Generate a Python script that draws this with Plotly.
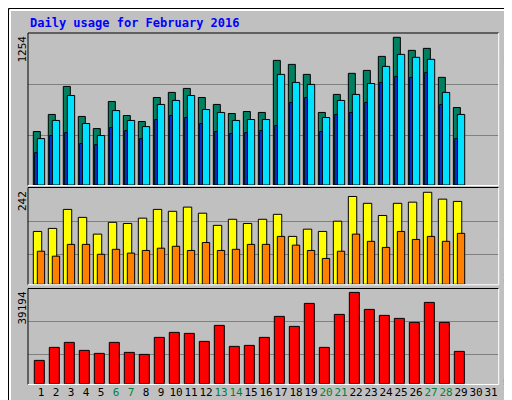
import plotly.graph_objects as go

days = list(range(1, 32))
data_days = list(range(1, 30))
hits = [454,599,837,582,479,709,590,539,743,786,820,743,684,607,624,616,1058,1024,939,616,769,948,973,1092,1254,1143,1160,914,658]
files = [394,548,760,522,420,632,548,496,684,718,760,641,616,548,556,556,939,871,854,573,718,769,862,1007,1109,1084,1067,786,599]
pages = [275,420,445,352,343,488,462,394,556,590,573,522,454,437,445,462,505,701,743,454,599,616,701,871,922,914,956,684,394]
visits = [139,147,197,176,132,163,160,174,197,192,203,187,155,171,160,171,184,126,145,139,166,231,213,181,213,216,242,224,218]
sites = [87,74,105,105,79,92,82,89,95,100,89,110,89,92,105,105,126,103,89,68,87,132,113,97,139,118,126,113,134]
kbytes = [10013,15591,17737,14304,13017,17737,13446,12588,19883,22028,21599,18166,25032,16021,16450,19883,28894,24603,34473,15591,29752,39194,31898,29323,28036,26319,34902,26319,13875]
weekend = [6,7,13,14,20,21,27,28]

W, H = 512, 400
fig = go.Figure()
line = dict(color="black", width=1)

def bar(y, color, off, wid, ya):
    fig.add_trace(go.Bar(x=data_days, y=y, offset=off, width=wid, marker=dict(color=color, line=line),
                         xaxis="x", yaxis=ya, showlegend=False, hoverinfo="skip"))

bar(hits, "#008060", -0.513, 0.467, "y")
bar(files, "#00E0FF", -0.247, 0.49, "y")
bar(pages, "#0040FF", -0.42, 0.17, "y")
bar(visits, "#FFFF00", -0.513, 0.56, "y2")
bar(sites, "#FF8000", -0.247, 0.49, "y2")
bar(kbytes, "#FF0000", -0.447, 0.667, "y3")

xr = [0.133, 31.51]
def pdom(top, bot):
    return [1 - bot / H, 1 - top / H]

ticktext = [f"<span style='color:#008040'>{d}</span>" if d in weekend else str(d) for d in days]
fig.update_layout(
    width=W, height=H, margin=dict(l=0, r=0, t=0, b=0, autoexpand=False),
    paper_bgcolor="#C0C0C0", plot_bgcolor="#C0C0C0", barmode="overlay",
    font=dict(family="DejaVu Sans Mono", size=11, color="black"),
    xaxis=dict(domain=[20/W, 490.7/W], range=xr, showgrid=False, zeroline=False, automargin=False,
               tickvals=days, ticktext=ticktext, ticks="", tickangle=0, anchor="y3",
               tickfont=dict(size=11)),
    yaxis=dict(domain=pdom(25, 177), range=[0, 1290.5], tickvals=[422, 855], showticklabels=False,
               gridcolor="#808080", zeroline=False, automargin=False),
    yaxis2=dict(domain=pdom(180.3, 276.3), range=[0, 252.5], tickvals=[79, 166], showticklabels=False,
                gridcolor="#808080", zeroline=False, automargin=False),
    yaxis3=dict(domain=pdom(281, 375.7), range=[0, 40654], tickvals=[12621, 26788], showticklabels=False,
                gridcolor="#808080", zeroline=False, automargin=False),
)

shapes = []
def px_rect(x0, y0, x1, y1, color, width=1):
    shapes.append(dict(type="rect", xref="paper", yref="paper", x0=x0/W, x1=x1/W,
                       y0=1-y1/H, y1=1-y0/H, line=dict(color=color, width=width), fillcolor="rgba(0,0,0,0)"))
def px_line(x0, y0, x1, y1, color, width=1):
    shapes.append(dict(type="line", xref="paper", yref="paper", x0=x0/W, x1=x1/W,
                       y0=1-y0/H, y1=1-y1/H, line=dict(color=color, width=width)))

px_rect(0.5, 0.5, 511.5, 399.5, "black", 1)
px_line(2, 2, 509, 2, "white", 2)
px_line(2, 2, 2, 397, "white", 2)
px_line(509, 2, 509, 397, "#808080", 2)
px_line(2, 397, 509, 397, "#808080", 2)
for top, bot in [(25, 177.5), (179.5, 276.8), (280.5, 376.5)]:
    px_line(20, top, 490.7, top, "black")
    px_line(20, top, 20, bot, "black")
    px_line(20, bot, 490.7, bot, "white")
    px_line(490.7, top, 490.7, bot, "white")
fig.update_layout(shapes=shapes)

ann = []
ann.append(dict(text="<b>Daily usage for February 2016</b>", x=20/W, y=1-15/H, xref="paper", yref="paper",
                xanchor="left", yanchor="middle", showarrow=False,
                font=dict(family="DejaVu Sans Mono", size=12, color="#0000FF")))
for txt, ytop in [("1254", 26), ("242", 181), ("39194", 282)]:
    ann.append(dict(text=txt, textangle=-90, x=14/W, y=1-ytop/H, xref="paper", yref="paper",
                    xanchor="center", yanchor="top", showarrow=False, font=dict(size=11)))
rlab = [
    ("<span style='color:#00C0FF'>Pages</span><span style='color:#008060'> / </span><span style='color:#00C0FF'>Files</span><span style='color:#008060'> / Hits</span>", 28),
    ("<span style='color:#FF8000'>Sites / </span><span style='color:#FFFF00'>Visits</span>", 182),
    ("<span style='color:#FF0000'>KBytes</span>", 340),
]
for txt, ytop in rlab:
    ann.append(dict(text=txt, textangle=-90, x=500/W, y=1-ytop/H, xref="paper", yref="paper",
                    xanchor="center", yanchor="top", showarrow=False, font=dict(size=11)))
fig.update_layout(annotations=ann)

fig.write_html("out.html")
